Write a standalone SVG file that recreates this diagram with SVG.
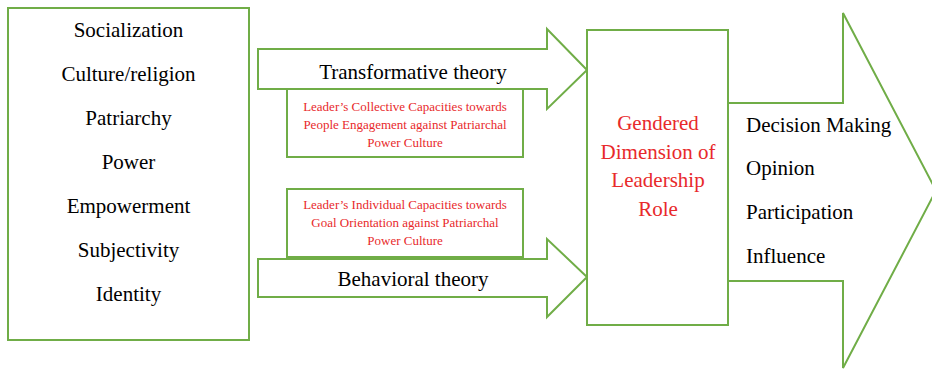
<svg xmlns="http://www.w3.org/2000/svg" width="932" height="371" viewBox="0 0 932 371" font-family="'Liberation Serif', serif">
<style>
.box{fill:#fff;stroke:#70ad47;stroke-width:2}
.t{font-family:'Liberation Serif',serif;font-size:21px;fill:#000}
.c{text-anchor:middle}
.r{fill:#e8292b}
.s{font-family:'Liberation Serif',serif;font-size:13px;fill:#e8292b;text-anchor:middle}
</style>
<rect width="932" height="371" fill="#fff"/>
<g id="factors">
<rect class="box" x="8" y="8" width="241" height="332"/>
<text class="t c" x="128.5" y="37">Socialization</text>
<text class="t c" x="128.5" y="81">Culture/religion</text>
<text class="t c" x="128.5" y="125">Patriarchy</text>
<text class="t c" x="128.5" y="169">Power</text>
<text class="t c" x="128.5" y="213">Empowerment</text>
<text class="t c" x="128.5" y="257">Subjectivity</text>
<text class="t c" x="128.5" y="301">Identity</text>
</g>
<g id="connectors">
<g id="transformative">
<polygon class="box" points="258,49 547,49 547,29 587,70 547,109 547,89 258,89"/>
<text class="t c" x="413" y="79">Transformative theory</text>
</g>
<g id="behavioral">
<polygon class="box" points="258,259 547,259 547,239 587,277 547,317 547,297 258,297"/>
<text class="t c" x="413" y="286">Behavioral theory</text>
</g>
</g>
<g id="collective">
<rect class="box" x="287" y="89" width="236" height="68"/>
<text class="s" x="405" y="111">Leader’s Collective Capacities towards</text>
<text class="s" x="405" y="129">People Engagement against Patriarchal</text>
<text class="s" x="405" y="147">Power Culture</text>
</g>
<g id="individual">
<rect class="box" x="287" y="189" width="236" height="68"/>
<text class="s" x="405" y="209">Leader’s Individual Capacities towards</text>
<text class="s" x="405" y="227">Goal Orientation against Patriarchal</text>
<text class="s" x="405" y="245">Power Culture</text>
</g>
<g id="outcomes">
<polygon class="box" points="728,103 843,103 843,13 936,190.5 843,368 843,281 728,281"/>
<text class="t" x="746" y="132">Decision Making</text>
<text class="t" x="746" y="175">Opinion</text>
<text class="t" x="746" y="219">Participation</text>
<text class="t" x="746" y="263">Influence</text>
</g>
<g id="gendered">
<rect class="box" x="587" y="30" width="141" height="295"/>
<text class="t c r" x="658" y="130">Gendered</text>
<text class="t c r" x="658" y="159">Dimension of</text>
<text class="t c r" x="658" y="187">Leadership</text>
<text class="t c r" x="658" y="216">Role</text>
</g>
</svg>
